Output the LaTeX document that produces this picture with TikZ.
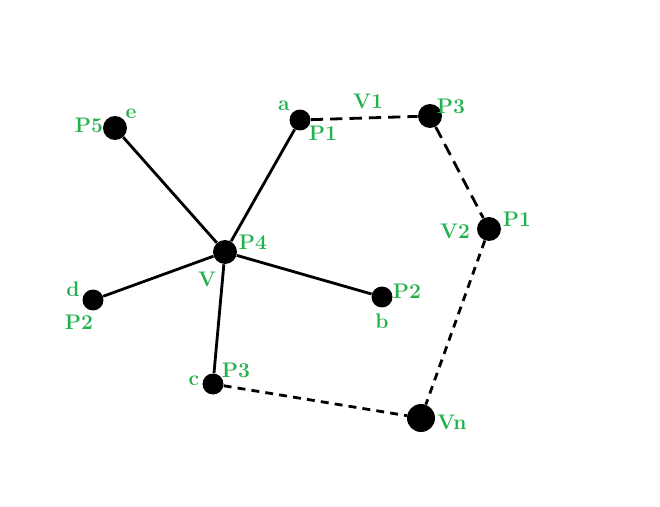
\documentclass[tikz,border=0pt]{standalone}
\usepackage{xcolor}
\definecolor{lblgreen}{RGB}{34,177,76}

\begin{document}
\begin{tikzpicture}[x=0.02cm,y=-0.02cm,
		vertex/.style={circle,fill=black,inner sep=0pt},
		small/.style={vertex,minimum size=0.42cm},
		big/.style={vertex,minimum size=0.48cm},
		huge/.style={vertex,minimum size=0.56cm},
		lbl/.style={text=lblgreen,font=\large\bfseries,inner sep=0pt},
		tree/.style={line width=1.6pt},
		walk/.style={line width=1.6pt,dash pattern=on 7pt off 4pt},
		fine walk/.style={line width=1.6pt,dash pattern=on 4.5pt off 3.5pt}]
		\useasboundingbox (0,0) rectangle (660,507);

		% vertices
		\node[big] (V) at (225,252) {};
		\node[big] (e) at (115,128) {};
		\node[small] (a) at (300,120) {};
		\node[small] (d) at (93,300) {};
		\node[small] (b) at (382,297) {};
		\node[small] (c) at (213,384) {};
		\node[big] (top) at (430,116) {};
		\node[big] (V2) at (489,229) {};
		\node[huge] (Vn) at (421,418) {};

		% tree edges
		\draw[tree] (V) -- (e);
		\draw[tree] (V) -- (a);
		\draw[tree] (V) -- (d);
		\draw[tree] (V) -- (b);
		\draw[tree] (V) -- (c);

		% path
		\draw[walk] (a) -- (top);
		\draw[walk] (top) -- (V2);
		\draw[fine walk] (V2) -- (Vn);
		\draw[fine walk] (c) -- (Vn);

		% labels
		\node[lbl] (lV) at (207,279) {V};
		\node[lbl] (lP4) at (253,242) {P4};
		\node[lbl] (lP5) at (89,125) {P5};
		\node[lbl] (le) at (131,114) {e};
		\node[lbl] (la) at (284,106) {a};
		\node[lbl] (laP) at (323,133) {P1};
		\node[lbl] (lV1) at (368,101) {V1};
		\node[lbl] (ltop) at (451,106) {P3};
		\node[lbl] (lV2) at (455,231) {V2};
		\node[lbl] (lV2P) at (517,219) {P1};
		\node[lbl] (ld) at (73,289) {d};
		\node[lbl] (ldP) at (79,322) {P2};
		\node[lbl] (lbP) at (407,291) {P2};
		\node[lbl] (lb) at (382,321) {b};
		\node[lbl] (lc) at (194,381) {c};
		\node[lbl] (lcP) at (236,370) {P3};
		\node[lbl] (lVn) at (452,422) {Vn};
	\end{tikzpicture}
\end{document}
